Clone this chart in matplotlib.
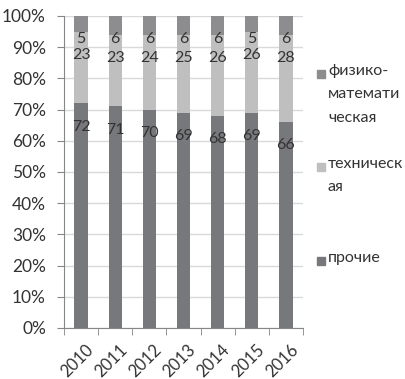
import matplotlib
matplotlib.use("Agg")
import matplotlib.pyplot as plt
from matplotlib.patches import Rectangle
from matplotlib.transforms import ScaledTranslation
import numpy as np

plt.rcParams["font.family"] = ["Lato", "Open Sans", "DejaVu Sans"]

years = ["2010", "2011", "2012", "2013", "2014", "2015", "2016"]
prochie = [72, 71, 70, 69, 68, 69, 66]
tech = [23, 23, 24, 25, 26, 26, 28]
fizmat = [5, 6, 6, 6, 6, 5, 6]

series_names = ["прочие", "техническ\nая", "физико-\nматемати\nческая"]
series_colors = ["#77787b", "#bfbfc0", "#8d8d90"]
grid_col = "#d9d9d9"
axis_col = "#868686"
text_col = "#333333"

fig = plt.figure(figsize=(4.06, 3.79), dpi=100)
ax = fig.add_axes([64 / 406, 1 - 328 / 379, 239 / 406, 312 / 379])

x = np.arange(len(years))
width = 0.39
bottom = np.zeros(len(years))
for vals, col in zip([prochie, tech, fizmat], series_colors):
    vals = np.array(vals, dtype=float)
    ax.bar(x, vals, width, bottom=bottom, color=col, zorder=2)
    top = bottom + vals
    for xi, t, v in zip(x, top, vals):
        ax.text(xi, t - 7.5, f"{v:.0f}", ha="center", va="center",
                fontsize=11.5, color=text_col, zorder=3)
    bottom = top

ax.set_xlim(-0.5, len(years) - 0.5)
ax.set_ylim(0, 100)
ax.set_yticks(np.arange(0, 101, 10))
ax.set_yticklabels([f"{v}%" for v in range(0, 101, 10)], fontsize=12.5, color=text_col)
ax.yaxis.grid(True, color=grid_col, linewidth=1, zorder=0)

# year labels sit between the boundary ticks
ax.set_xticks(x)
ax.set_xticklabels(years, rotation=45, ha="right", rotation_mode="anchor",
                   fontsize=12, color=text_col)
ax.tick_params(axis="x", which="major", length=0, pad=10)
shift = ScaledTranslation(4 / 100, 0, fig.dpi_scale_trans)
for lab in ax.get_xticklabels():
    lab.set_transform(lab.get_transform() + shift)
ax.set_xticks(np.arange(-0.5, len(years)), minor=True)
ax.tick_params(axis="x", which="minor", length=5, color=axis_col, direction="out")
ax.tick_params(axis="y", length=5, color=axis_col, pad=8)

for side in ["top", "right"]:
    ax.spines[side].set_visible(False)
for side in ["left", "bottom"]:
    ax.spines[side].set_color(axis_col)

# legend, top entry first
legend_rows = [(2, 74), (1, 167), (0, 261)]
for idx, yc in legend_rows:
    fig.add_artist(Rectangle((317 / 406, 1 - (yc + 4) / 379), 8 / 406, 8 / 379,
                             transform=fig.transFigure, color=series_colors[idx]))
    fig.text(328 / 406, 1 - (yc - 10) / 379, series_names[idx], ha="left", va="top",
             fontsize=11.5, color=text_col, linespacing=1.85)

fig.savefig("out.png", dpi=100)
